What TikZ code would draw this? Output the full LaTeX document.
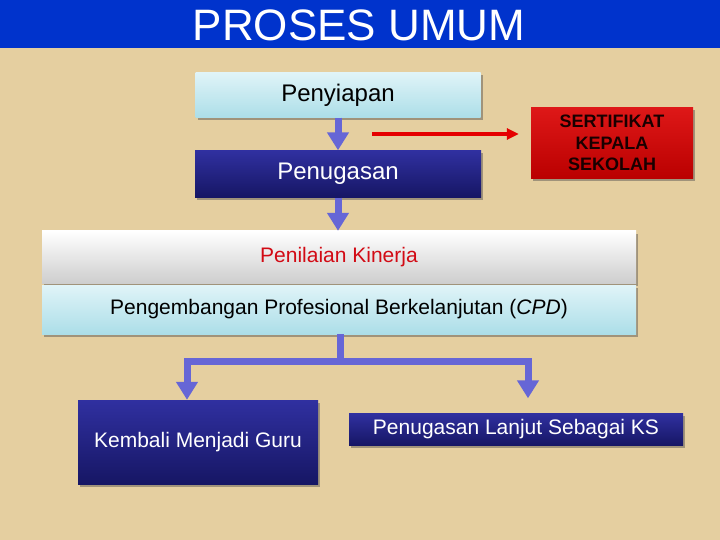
\documentclass[tikz,border=0pt]{standalone}
\usepackage{fontspec}
\setmainfont{Liberation Sans}
\usetikzlibrary{arrows.meta,shadows}

\definecolor{parch}{RGB}{229,207,160}
\definecolor{titleblue}{RGB}{0,51,204}
\definecolor{arrowblue}{RGB}{102,102,214}
\definecolor{navytop}{RGB}{48,48,160}
\definecolor{navybot}{RGB}{22,22,100}
\definecolor{cyantop}{RGB}{224,244,248}
\definecolor{cyanbot}{RGB}{172,222,232}
\definecolor{greybot}{RGB}{206,206,206}
\definecolor{redtop}{RGB}{222,24,24}
\definecolor{redbot}{RGB}{186,0,0}
\definecolor{kinerjared}{RGB}{210,10,20}

\tikzset{
	box/.style={inner sep=0pt, align=center,
		drop shadow={shadow xshift=2pt, shadow yshift=-2.5pt, opacity=0.45, fill=black!70}},
	lightbox/.style={box, top color=cyantop, bottom color=cyanbot, text=black},
	navybox/.style={box, top color=navytop, bottom color=navybot, text=white},
	whitebox/.style={box, top color=white, bottom color=greybot, text=kinerjared},
	redbox/.style={box, top color=redtop, bottom color=redbot, text=black!90!red},
	fatline/.style={draw=arrowblue, line width=7pt},
	fatarrow/.style={fatline, -{Triangle[width=21pt,length=18pt]}},
	redarrow/.style={draw=red!90!black, line width=3.5pt, -{Triangle[width=11pt,length=12pt]}},
	bigfont/.style={font=\fontsize{24}{28}\selectfont},
	midfont/.style={font=\fontsize{21}{25}\selectfont}
}

\begin{document}
\begin{tikzpicture}[x=1pt, y=-1pt]
	% Hintergrund
	\fill[parch] (0, 0) rectangle (720, 540);
	\useasboundingbox (0, 0) rectangle (720, 540);

	% Titel
	\fill[titleblue] (0, 0) rectangle (720, 48);
	\node[font=\fontsize{44}{48}\selectfont, text=white] (title) at (359, 25) {PROSES UMUM};

	% Kaesten oben
	\node[lightbox, bigfont, minimum width=285pt, minimum height=45pt] (penyiapan) at (338, 95)
		{Penyiapan};
	\node[navybox, bigfont, minimum width=286pt, minimum height=47pt] (penugasan) at (338, 174)
		{Penugasan};
	\node[redbox, font=\fontsize{18}{21.5}\selectfont\bfseries, minimum width=162pt,
		minimum height=71pt] (sertifikat) at (612, 143)
		{SERTIFIKAT\\KEPALA\\SEKOLAH};

	% Kaesten Mitte
	\node[whitebox, midfont, minimum width=594pt, minimum height=52pt] (kinerja) at (339, 257)
		{Penilaian Kinerja};
	\node[lightbox, midfont, minimum width=594pt, minimum height=49pt] (cpd) at (339, 309.5)
		{Pengembangan Profesional Berkelanjutan (\textit{CPD})};

	% Kaesten unten
	\node[navybox, midfont, minimum width=240pt, minimum height=84pt] (kembali) at (198, 442)
		{Kembali Menjadi Guru};
	\node[navybox, midfont, minimum width=334pt, minimum height=32pt] (lanjut) at (516, 429.5)
		{Penugasan Lanjut Sebagai KS};

	% Pfeile
	\draw[fatarrow] (penyiapan.south) -- (penugasan.north);
	\draw[fatarrow] (penugasan.south) -- (penugasan.south |- kinerja.north);
	\coordinate (redtail) at (372, 134);
	\draw[redarrow, shorten >=12pt] (redtail) -- (redtail -| sertifikat.west);

	% Verzweigung
	\coordinate (knot) at (340, 361.5);
	\coordinate (knotl) at (187, 361.5);
	\coordinate (knotr) at (528, 361.5);
	\draw[fatline] (cpd.south -| knot) -- (knot);
	\draw[fatarrow] (knot) -- (knotl) -- (knotl |- kembali.north);
	\draw[fatarrow, shorten >=15pt] (knot) -- (knotr) -- (knotr |- lanjut.north);
\end{tikzpicture}
\end{document}
